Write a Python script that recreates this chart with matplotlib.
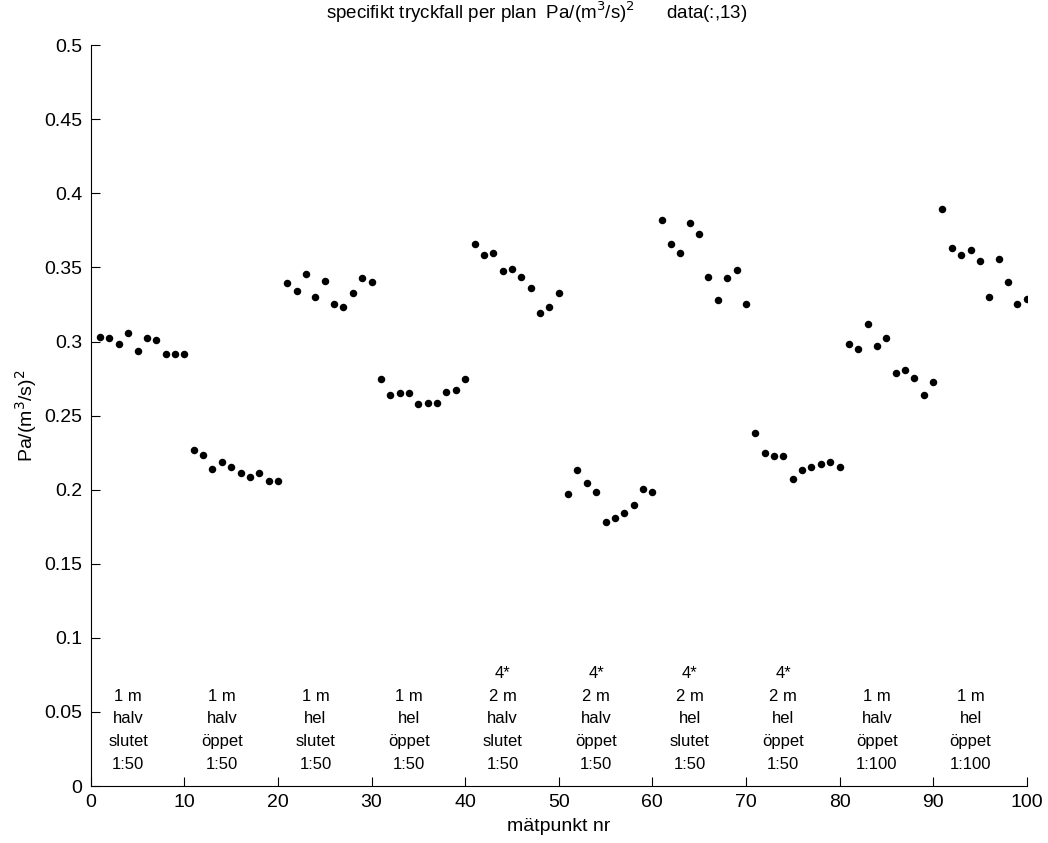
import matplotlib
matplotlib.use('Agg')
import matplotlib.pyplot as plt
import numpy as np

plt.rcParams['font.family'] = ['Liberation Sans', 'DejaVu Sans']

# specific pressure drop, one value per measuring point (1..100)
group_1 = [0.3033, 0.3024, 0.2982, 0.3056, 0.2938, 0.3024, 0.3013, 0.2916, 0.2916, 0.2916]
group_2 = [0.2268, 0.2236, 0.2140, 0.2185, 0.2153, 0.2111, 0.2084, 0.2111, 0.2062, 0.2060]
group_3 = [0.3395, 0.3341, 0.3458, 0.3299, 0.3407, 0.3256, 0.3235, 0.3330, 0.3427, 0.3404]
group_4 = [0.2747, 0.2642, 0.2651, 0.2651, 0.2579, 0.2588, 0.2588, 0.2662, 0.2673, 0.2747]
group_5 = [0.3661, 0.3587, 0.3596, 0.3479, 0.3490, 0.3436, 0.3362, 0.3193, 0.3233, 0.3330]
group_6 = [0.1971, 0.2131, 0.2045, 0.1982, 0.1780, 0.1811, 0.1843, 0.1897, 0.2003, 0.1982]
group_7 = [0.3821, 0.3661, 0.3598, 0.3798, 0.3724, 0.3438, 0.3279, 0.3427, 0.3481, 0.3256]
group_8 = [0.2385, 0.2248, 0.2228, 0.2228, 0.2070, 0.2133, 0.2151, 0.2176, 0.2185, 0.2156]
group_9 = [0.2981, 0.2950, 0.3119, 0.2970, 0.3022, 0.2790, 0.2810, 0.2756, 0.2639, 0.2725]
group_10 = [0.3895, 0.3630, 0.3584, 0.3618, 0.3544, 0.3299, 0.3555, 0.3404, 0.3256, 0.3290]

values = group_1 + group_2 + group_3 + group_4 + group_5 + group_6 + group_7 + group_8 + group_9 + group_10
points = np.arange(1, len(values) + 1)

group_labels = [
    '1 m\nhalv\nslutet\n1:50',
    '1 m\nhalv\nöppet\n1:50',
    '1 m\nhel\nslutet\n1:50',
    '1 m\nhel\nöppet\n1:50',
    '4*\n2 m\nhalv\nslutet\n1:50',
    '4*\n2 m\nhalv\nöppet\n1:50',
    '4*\n2 m\nhel\nslutet\n1:50',
    '4*\n2 m\nhel\nöppet\n1:50',
    '1 m\nhalv\nöppet\n1:100',
    '1 m\nhel\nöppet\n1:100',
]
label_x = [4, 14, 24, 34, 44, 54, 64, 74, 84, 94]

xticks = [0, 10, 20, 30, 40, 50, 60, 70, 80, 90, 100]
yticks = [0, 0.05, 0.1, 0.15, 0.2, 0.25, 0.3, 0.35, 0.4, 0.45, 0.5]
ytick_labels = ['0', '0.05', '0.1', '0.15', '0.2', '0.25', '0.3', '0.35', '0.4', '0.45', '0.5']

fig = plt.figure(figsize=(10.48, 8.43), dpi=100)
ax = fig.add_axes([0.0866, 0.0676, 0.8931, 0.8787])

ax.plot(points, values, 'o', color='black', markersize=5.4, markeredgewidth=0)

for x, txt in zip(label_x, group_labels):
    ax.text(x, 0.0095, txt, ha='center', va='bottom', fontsize=12, linespacing=1.65)

ax.set_xlim(0, 100)
ax.set_ylim(0, 0.5)
ax.set_xticks(xticks)
ax.set_yticks(yticks)
ax.set_yticklabels(ytick_labels)
ax.tick_params(direction='in', length=6.3, width=0.8, labelsize=14, pad=6)
ax.spines['top'].set_visible(False)
ax.spines['right'].set_visible(False)

ax.set_xlabel('mätpunkt nr', fontsize=14, labelpad=5)
ax.set_ylabel('Pa/(m$^3$/s)$^2$', fontsize=14, labelpad=4)

fig.text(537 / 1048, 1 - 12 / 843,
         'specifikt tryckfall per plan  Pa/(m$^3$/s)$^2$      data(:,13)',
         ha='center', va='center', fontsize=13.5)

fig.savefig('out.png', dpi=100)
